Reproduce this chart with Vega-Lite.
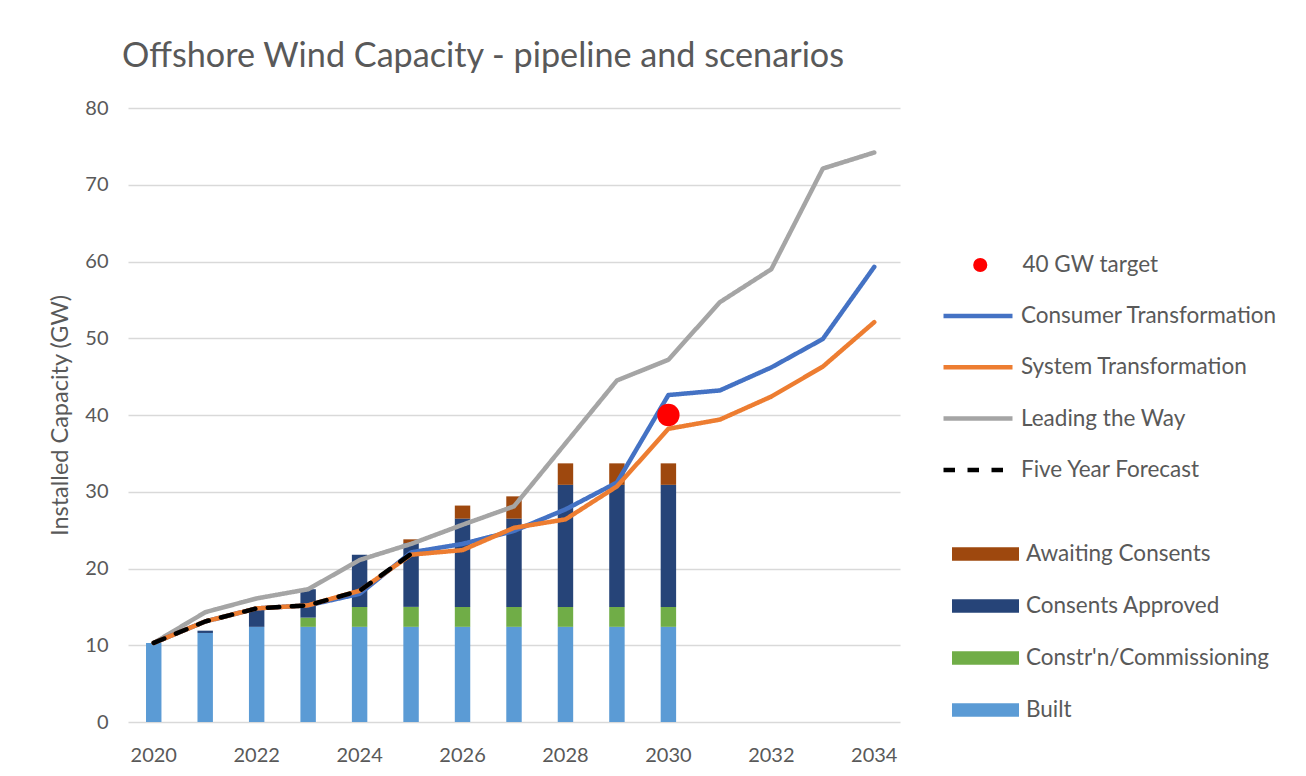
{
  "$schema": "https://vega.github.io/schema/vega-lite/v6.json",
  "width": 772,
  "height": 614,
  "autosize": {"type": "none"},
  "padding": {"left": 128, "top": 108, "right": 406, "bottom": 54},
  "background": "white",
  "title": {
    "text": "Offshore Wind Capacity - pipeline and scenarios",
    "anchor": "start",
    "frame": "group",
    "font": "Lato",
    "fontSize": 34.2,
    "fontWeight": "normal",
    "color": "#595959",
    "dx": -6,
    "offset": 24
  },
  "config": {
    "font": "Lato",
    "view": {"stroke": null},
    "legend": {
      "labelFont": "Lato",
      "labelFontSize": 22.5,
      "labelColor": "#595959",
      "labelLimit": 400,
      "padding": 0,
      "clipHeight": 20
    }
  },
  "datasets": {
    "bars": [
      {"year": 2020, "component": "Built", "value": 10.3},
      {"year": 2021, "component": "Built", "value": 11.6},
      {"year": 2021, "component": "Consents Approved", "value": 0.3},
      {"year": 2022, "component": "Built", "value": 12.4},
      {"year": 2022, "component": "Consents Approved", "value": 2.2},
      {"year": 2023, "component": "Built", "value": 12.4},
      {"year": 2023, "component": "Constr'n/Commissioning", "value": 1.2},
      {"year": 2023, "component": "Consents Approved", "value": 3.7},
      {"year": 2024, "component": "Built", "value": 12.4},
      {"year": 2024, "component": "Constr'n/Commissioning", "value": 2.6},
      {"year": 2024, "component": "Consents Approved", "value": 6.8},
      {"year": 2025, "component": "Built", "value": 12.4},
      {"year": 2025, "component": "Constr'n/Commissioning", "value": 2.6},
      {"year": 2025, "component": "Consents Approved", "value": 8.3},
      {"year": 2025, "component": "Awaiting Consents", "value": 0.5},
      {"year": 2026, "component": "Built", "value": 12.4},
      {"year": 2026, "component": "Constr'n/Commissioning", "value": 2.6},
      {"year": 2026, "component": "Consents Approved", "value": 11.5},
      {"year": 2026, "component": "Awaiting Consents", "value": 1.7},
      {"year": 2027, "component": "Built", "value": 12.4},
      {"year": 2027, "component": "Constr'n/Commissioning", "value": 2.6},
      {"year": 2027, "component": "Consents Approved", "value": 11.5},
      {"year": 2027, "component": "Awaiting Consents", "value": 2.9},
      {"year": 2028, "component": "Built", "value": 12.4},
      {"year": 2028, "component": "Constr'n/Commissioning", "value": 2.6},
      {"year": 2028, "component": "Consents Approved", "value": 15.9},
      {"year": 2028, "component": "Awaiting Consents", "value": 2.8},
      {"year": 2029, "component": "Built", "value": 12.4},
      {"year": 2029, "component": "Constr'n/Commissioning", "value": 2.6},
      {"year": 2029, "component": "Consents Approved", "value": 15.9},
      {"year": 2029, "component": "Awaiting Consents", "value": 2.8},
      {"year": 2030, "component": "Built", "value": 12.4},
      {"year": 2030, "component": "Constr'n/Commissioning", "value": 2.6},
      {"year": 2030, "component": "Consents Approved", "value": 15.9},
      {"year": 2030, "component": "Awaiting Consents", "value": 2.8}
    ],
    "lines": [
      {"year": 2020, "series": "Leading the Way", "value": 10.3},
      {"year": 2021, "series": "Leading the Way", "value": 14.3},
      {"year": 2022, "series": "Leading the Way", "value": 16.1},
      {"year": 2023, "series": "Leading the Way", "value": 17.3},
      {"year": 2024, "series": "Leading the Way", "value": 21.1},
      {"year": 2025, "series": "Leading the Way", "value": 23.2},
      {"year": 2026, "series": "Leading the Way", "value": 25.7},
      {"year": 2027, "series": "Leading the Way", "value": 28.1},
      {"year": 2028, "series": "Leading the Way", "value": 36.3},
      {"year": 2029, "series": "Leading the Way", "value": 44.5},
      {"year": 2030, "series": "Leading the Way", "value": 47.2},
      {"year": 2031, "series": "Leading the Way", "value": 54.7},
      {"year": 2032, "series": "Leading the Way", "value": 59.0},
      {"year": 2033, "series": "Leading the Way", "value": 72.1},
      {"year": 2034, "series": "Leading the Way", "value": 74.2},
      {"year": 2020, "series": "Consumer Transformation", "value": 10.3},
      {"year": 2021, "series": "Consumer Transformation", "value": 13.1},
      {"year": 2022, "series": "Consumer Transformation", "value": 14.8},
      {"year": 2023, "series": "Consumer Transformation", "value": 15.2},
      {"year": 2024, "series": "Consumer Transformation", "value": 16.7},
      {"year": 2025, "series": "Consumer Transformation", "value": 22.1},
      {"year": 2026, "series": "Consumer Transformation", "value": 23.2},
      {"year": 2027, "series": "Consumer Transformation", "value": 24.9},
      {"year": 2028, "series": "Consumer Transformation", "value": 27.7},
      {"year": 2029, "series": "Consumer Transformation", "value": 31.2},
      {"year": 2030, "series": "Consumer Transformation", "value": 42.6},
      {"year": 2031, "series": "Consumer Transformation", "value": 43.2},
      {"year": 2032, "series": "Consumer Transformation", "value": 46.2},
      {"year": 2033, "series": "Consumer Transformation", "value": 49.9},
      {"year": 2034, "series": "Consumer Transformation", "value": 59.3},
      {"year": 2020, "series": "System Transformation", "value": 10.3},
      {"year": 2021, "series": "System Transformation", "value": 13.1},
      {"year": 2022, "series": "System Transformation", "value": 14.8},
      {"year": 2023, "series": "System Transformation", "value": 15.2},
      {"year": 2024, "series": "System Transformation", "value": 17.1},
      {"year": 2025, "series": "System Transformation", "value": 21.8},
      {"year": 2026, "series": "System Transformation", "value": 22.4},
      {"year": 2027, "series": "System Transformation", "value": 25.3},
      {"year": 2028, "series": "System Transformation", "value": 26.4},
      {"year": 2029, "series": "System Transformation", "value": 30.7},
      {"year": 2030, "series": "System Transformation", "value": 38.2},
      {"year": 2031, "series": "System Transformation", "value": 39.4},
      {"year": 2032, "series": "System Transformation", "value": 42.4},
      {"year": 2033, "series": "System Transformation", "value": 46.3},
      {"year": 2034, "series": "System Transformation", "value": 52.1},
      {"year": 2020, "series": "Five Year Forecast", "value": 10.3},
      {"year": 2021, "series": "Five Year Forecast", "value": 13.1},
      {"year": 2022, "series": "Five Year Forecast", "value": 14.8},
      {"year": 2023, "series": "Five Year Forecast", "value": 15.2},
      {"year": 2024, "series": "Five Year Forecast", "value": 17.1},
      {"year": 2025, "series": "Five Year Forecast", "value": 21.9}
    ],
    "target": [
      {"year": 2030, "label": "40 GW target", "value": 40}
    ]
  },
  "encoding": {
    "x": {
      "field": "year",
      "type": "ordinal",
      "scale": {
        "type": "band",
        "domain": [2020, 2021, 2022, 2023, 2024, 2025, 2026, 2027, 2028, 2029, 2030, 2031, 2032, 2033, 2034],
        "paddingInner": 0.7,
        "paddingOuter": 0.35
      },
      "axis": {
        "title": null,
        "values": [2020, 2022, 2024, 2026, 2028, 2030, 2032, 2034],
        "labelAngle": 0,
        "labelFont": "Lato",
        "labelFontSize": 20,
        "labelColor": "#595959",
        "labelPadding": 23,
        "domain": false,
        "ticks": false,
        "grid": false
      }
    },
    "y": {
      "field": "value",
      "type": "quantitative",
      "scale": {"domain": [0, 80], "nice": false},
      "axis": {
        "title": "Installed Capacity (GW)",
        "titleFont": "Lato",
        "titleFontSize": 23.5,
        "titleFontWeight": "normal",
        "titleColor": "#595959",
        "titlePadding": 12,
        "values": [0, 10, 20, 30, 40, 50, 60, 70, 80],
        "labelFont": "Lato",
        "labelFontSize": 20,
        "labelColor": "#595959",
        "labelPadding": 20,
        "domain": false,
        "ticks": false,
        "grid": true,
        "gridColor": "#D9D9D9",
        "gridWidth": 1.5
      }
    }
  },
  "layer": [
    {
      "data": {"name": "bars"},
      "mark": {"type": "bar"},
      "encoding": {
        "fill": {
          "field": "component",
          "type": "nominal",
          "scale": {
            "domain": ["Built", "Constr'n/Commissioning", "Consents Approved", "Awaiting Consents"],
            "range": ["#5B9BD5", "#70AD47", "#264478", "#9E480E"]
          },
          "legend": {
            "title": null,
            "orient": "none",
            "legendX": 824,
            "legendY": 436,
            "rowPadding": 29,
            "values": ["Awaiting Consents", "Consents Approved", "Constr'n/Commissioning", "Built"],
            "symbolType": "M-1,-0.2H1V0.2H-1Z",
            "symbolSize": 4489,
            "symbolStrokeWidth": 0,
            "labelOffset": 7
          }
        },
        "order": {"field": "year", "type": "quantitative"}
      }
    },
    {
      "data": {"name": "lines"},
      "mark": {"type": "line", "strokeWidth": 4.5, "strokeCap": "round", "strokeJoin": "round"},
      "encoding": {
        "stroke": {
          "field": "series",
          "type": "nominal",
          "scale": {
            "domain": ["Consumer Transformation", "System Transformation", "Leading the Way", "Five Year Forecast"],
            "range": ["#4472C4", "#ED7D31", "#A5A5A5", "#000000"]
          },
          "legend": {
            "title": null,
            "orient": "none",
            "legendX": 813,
            "legendY": 198,
            "rowPadding": 28.3,
            "symbolType": "stroke",
            "symbolSize": 4761,
            "symbolStrokeWidth": 4.5,
            "labelOffset": 6
          }
        },
        "strokeDash": {
          "field": "series",
          "type": "nominal",
          "scale": {
            "domain": ["Consumer Transformation", "System Transformation", "Leading the Way", "Five Year Forecast"],
            "range": [[1, 0], [1, 0], [1, 0], [11.5, 12.5]]
          },
          "legend": {
            "title": null,
            "orient": "none",
            "legendX": 813,
            "legendY": 198,
            "rowPadding": 28.3,
            "symbolType": "stroke",
            "symbolSize": 4761,
            "symbolStrokeWidth": 4.5,
            "labelOffset": 6
          }
        }
      }
    },
    {
      "data": {"name": "target"},
      "mark": {"type": "point", "filled": true, "size": 500, "opacity": 1, "shape": "circle"},
      "encoding": {
        "color": {
          "field": "label",
          "type": "nominal",
          "scale": {"domain": ["40 GW target"], "range": ["#FF0000"]},
          "legend": {
            "title": null,
            "orient": "none",
            "legendX": 841,
            "legendY": 147,
            "symbolType": "circle",
            "symbolSize": 200,
            "symbolOpacity": 1,
            "labelOffset": 31
          }
        }
      }
    }
  ]
}
